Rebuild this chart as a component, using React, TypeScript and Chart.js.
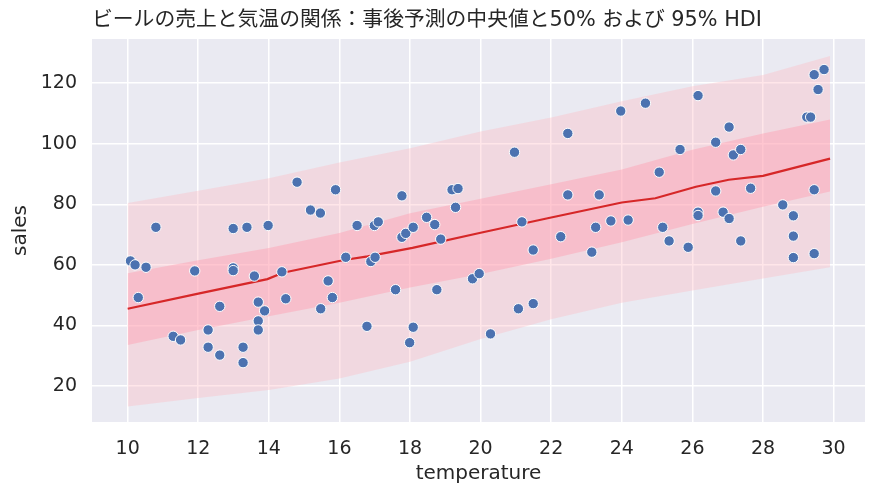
import React, { useEffect, useRef } from "react";
import { Chart, registerables } from "chart.js";

Chart.register(...registerables);

// ---- data ----
const temperature = [
  10.08, 10.21, 10.52, 10.3, 10.8, 11.29, 11.5, 11.9, 12.28, 12.28,
  12.61, 12.61, 12.99, 12.99, 12.99, 13.27, 13.27, 13.38, 13.59, 13.7,
  13.7, 13.7, 13.88, 13.98, 14.37, 14.48, 14.8, 15.18, 15.46, 15.47,
  15.68, 15.8, 15.89, 16.18, 16.5, 16.78, 16.89, 17.01, 16.99, 17.1,
  17.59, 17.77, 17.77, 17.88, 17.99, 18.09, 18.09, 18.47, 18.7, 18.76,
  18.87, 19.19, 19.36, 19.29, 19.77, 19.96, 20.28, 20.96, 21.07, 21.17,
  21.49, 21.49, 22.27, 22.47, 22.47, 23.15, 23.26, 23.36, 23.69, 23.97,
  24.18, 24.67, 25.06, 25.16, 25.34, 25.65, 25.88, 26.16, 26.16, 26.16,
  26.66, 26.66, 26.87, 27.04, 27.04, 27.16, 27.37, 27.37, 27.65, 28.56,
  28.86, 28.86, 28.86, 29.24, 29.35, 29.45, 29.56, 29.73, 29.45, 29.45,
];
const sales = [
  61.3, 60.0, 59.2, 49.2, 72.4, 36.4, 35.2, 58.0, 38.5, 32.8,
  46.3, 30.2, 72.0, 59.0, 58.1, 32.8, 27.7, 72.4, 56.3, 47.7,
  41.5, 38.5, 44.8, 73.0, 57.7, 48.8, 87.3, 78.1, 77.1, 45.5,
  54.7, 49.2, 84.8, 62.5, 73.0, 39.7, 61.1, 62.5, 73.0, 74.2,
  51.8, 82.8, 69.1, 70.4, 34.3, 39.4, 72.4, 75.7, 73.3, 51.8,
  68.5, 84.8, 85.2, 79.0, 55.4, 57.1, 37.2, 97.2, 45.5, 74.2,
  47.2, 64.9, 69.3, 103.4, 83.1, 64.2, 72.4, 83.1, 74.5, 110.8,
  74.8, 113.4, 90.6, 72.4, 67.9, 98.1, 65.8, 115.9, 77.4, 76.3,
  100.5, 84.4, 77.4, 105.5, 75.3, 96.3, 98.1, 67.9, 85.3, 79.8,
  76.2, 69.5, 62.4, 108.8, 108.8, 122.8, 117.9, 124.5, 84.8, 63.7,
];

const bandTemp = [10, 12, 14, 16, 18, 20, 22, 24, 26, 28, 29.9];
const hdi95Low = [13.2, 16.0, 18.7, 22.5, 28.0, 35.5, 42.0, 47.5, 51.5, 55.5, 59.2];
const hdi95High = [80.4, 84.5, 88.6, 93.8, 98.5, 104.0, 108.7, 114.0, 119.0, 122.7, 129.0];
const hdi50Low = [33.5, 38.5, 43.0, 47.5, 52.5, 57.0, 62.0, 67.5, 73.5, 79.2, 84.2];
const hdi50High = [57.2, 61.5, 65.6, 70.5, 77.0, 81.8, 86.6, 91.5, 98.0, 103.4, 108.0];

const medianTemp = [10, 12, 13.96, 14.4, 16.13, 16.8, 18.07, 20, 21.9, 24, 24.95, 26.1, 27.03, 28, 29.9];
const medianSales = [45.5, 50.5, 55.3, 57.4, 61.6, 62.8, 65.6, 70.6, 75.4, 80.6, 82.0, 85.8, 88.1, 89.4, 95.1];

const xTicks = [10, 12, 14, 16, 18, 20, 22, 24, 26, 28, 30];
const yTicks = [20, 40, 60, 80, 100, 120];

const titleText = "ビールの売上と気温の関係：事後予測の中央値と50% および 95% HDI";
const xLabel = "temperature";
const yLabel = "sales";

const FONT = "'DejaVu Sans', 'Noto Sans CJK JP', sans-serif";
const TEXT = "#262626";

const bgPlugin = {
  id: "bgPlugin",
  beforeDraw(chart: any) {
    const { ctx, chartArea } = chart;
    if (!chartArea) return;
    ctx.save();
    ctx.fillStyle = "#EAEAF2";
    ctx.fillRect(chartArea.left, chartArea.top, chartArea.right - chartArea.left, chartArea.bottom - chartArea.top);
    ctx.restore();
  },
};

function zip(xs: number[], ys: number[]) {
  return xs.map((x, i) => ({ x, y: ys[i] }));
}

export default function App() {
  const ref = useRef<HTMLCanvasElement | null>(null);

  useEffect(() => {
    if (!ref.current) return;
    const chart = new Chart(ref.current, {
      type: "scatter",
      data: {
        datasets: [
          {
            type: "line",
            data: zip(bandTemp, hdi95Low),
            borderWidth: 0,
            pointRadius: 0,
            fill: false,
            order: 6,
          },
          {
            type: "line",
            data: zip(bandTemp, hdi95High),
            borderWidth: 0,
            pointRadius: 0,
            fill: "-1",
            backgroundColor: "rgba(255,182,193,0.35)",
            order: 5,
          },
          {
            type: "line",
            data: zip(bandTemp, hdi50Low),
            borderWidth: 0,
            pointRadius: 0,
            fill: false,
            order: 4,
          },
          {
            type: "line",
            data: zip(bandTemp, hdi50High),
            borderWidth: 0,
            pointRadius: 0,
            fill: "-1",
            backgroundColor: "rgba(255,160,178,0.45)",
            order: 3,
          },
          {
            type: "line",
            data: zip(medianTemp, medianSales),
            borderColor: "#d62728",
            borderWidth: 2.2,
            pointRadius: 0,
            fill: false,
            order: 2,
          },
          {
            type: "scatter",
            data: zip(temperature, sales),
            backgroundColor: "#4C72B0",
            borderColor: "#ffffff",
            borderWidth: 1,
            pointRadius: 5.2,
            order: 1,
          },
        ] as any,
      },
      options: {
        animation: false,
        responsive: true,
        maintainAspectRatio: false,
        layout: { padding: { left: 0, right: 8, top: 0, bottom: 0 } },
        plugins: {
          legend: { display: false },
          tooltip: { enabled: false },
          title: {
            display: true,
            text: titleText,
            align: "start",
            fullSize: false,
            color: TEXT,
            font: { family: FONT, size: 20.8, weight: "normal" },
            padding: { top: 0, bottom: 6 },
          },
        },
        scales: {
          x: {
            type: "linear",
            min: 8.99,
            max: 30.89,
            afterBuildTicks: (scale: any) => {
              scale.ticks = xTicks.map((v) => ({ value: v }));
            },
            afterFit: (scale: any) => {
              scale.height = 65;
            },
            border: { display: false },
            grid: { color: "#ffffff", lineWidth: 1.5, drawTicks: false },
            ticks: {
              color: TEXT,
              font: { family: FONT, size: 19 },
              padding: 16,
              maxRotation: 0,
              autoSkip: false,
            },
            title: {
              display: true,
              text: xLabel,
              color: TEXT,
              font: { family: FONT, size: 20 },
              padding: { top: 0, bottom: 1 },
            },
          },
          y: {
            type: "linear",
            min: 8.1,
            max: 134.6,
            afterBuildTicks: (scale: any) => {
              scale.ticks = yTicks.map((v) => ({ value: v }));
            },
            afterFit: (scale: any) => {
              scale.width = 84;
            },
            border: { display: false },
            grid: { color: "#ffffff", lineWidth: 1.5, drawTicks: false },
            ticks: {
              color: TEXT,
              font: { family: FONT, size: 19 },
              padding: 15,
              autoSkip: false,
            },
            title: {
              display: true,
              text: yLabel,
              color: TEXT,
              font: { family: FONT, size: 20 },
              padding: { top: 1, bottom: 0 },
            },
          },
        },
      } as any,
      plugins: [bgPlugin],
    });
    return () => chart.destroy();
  }, []);

  return (
    <div style={{ width: 865, height: 479, position: "relative" }}>
      <canvas ref={ref} />
    </div>
  );
}
